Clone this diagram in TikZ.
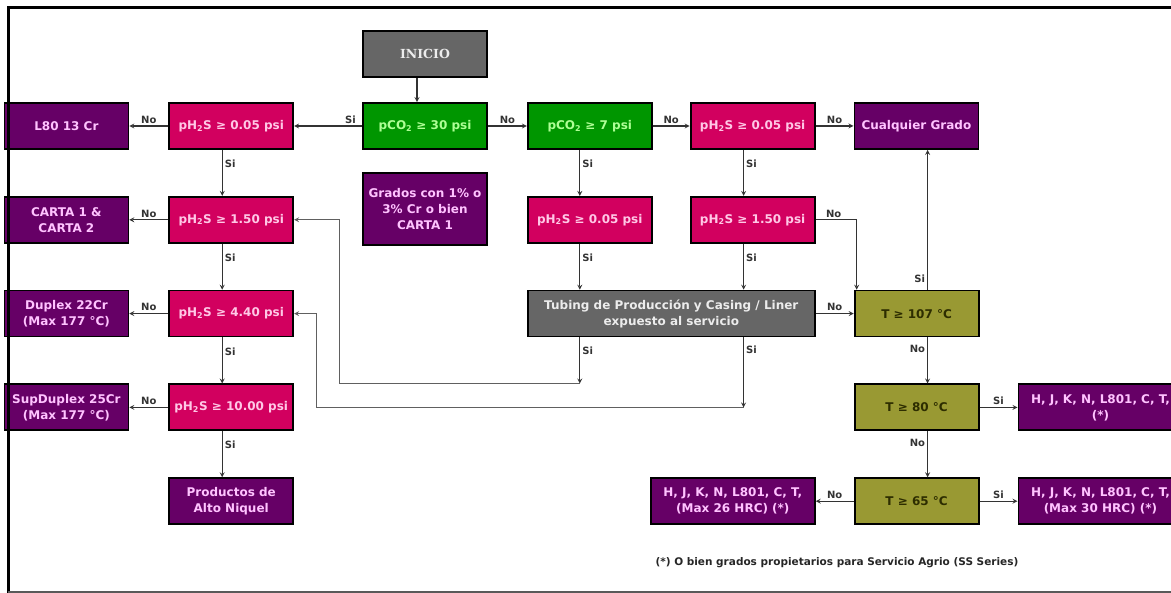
\documentclass[tikz,border=0pt]{standalone}
\usepackage{fontspec}
\setmainfont{DejaVu Sans}
\newfontfamily\inifont{DejaVu Serif}
\usepackage{xcolor}
\usetikzlibrary{shapes,arrows,positioning}

\definecolor{boxgray}{RGB}{102,102,102}
\definecolor{cogreen}{RGB}{0,150,0}
\definecolor{cotext}{RGB}{175,255,150}
\definecolor{hspink}{RGB}{210,0,95}
\definecolor{hstext}{RGB}{255,200,230}
\definecolor{grpurple}{RGB}{102,0,102}
\definecolor{grtext}{RGB}{255,195,255}
\definecolor{tolive}{RGB}{153,153,51}
\definecolor{ttext}{RGB}{45,45,0}

\begin{document}
\begin{tikzpicture}[
    x=1pt, y=1pt,
    node distance=46pt and 38pt,
    base/.style={draw=black, line width=1.8pt, rectangle, minimum width=124pt, minimum height=46pt, align=center, inner sep=2pt, font=\fontsize{12}{16}\selectfont\bfseries},
    start/.style={base, fill=boxgray, text=gray!15, font=\fontsize{12.5}{16}\selectfont\inifont\bfseries},
    co/.style={base, fill=cogreen, text=cotext},
    hs/.style={base, fill=hspink, text=hstext},
    grade/.style={base, fill=grpurple, text=grtext},
    temp/.style={base, fill=tolive, text=ttext},
    serv/.style={base, fill=boxgray, text=gray!15, minimum width=287pt},
    wide/.style={grade, minimum width=164pt},
    lbl/.style={font=\fontsize{10}{12}\selectfont\bfseries, text=black!80, inner sep=2pt},
    arrow/.style={->, >=stealth, line width=1.2pt, draw=black!80},
    back/.style={->, >=stealth, line width=1.2pt, draw=gray!75!black}
]
    \useasboundingbox (0,0) rectangle (1171,-593);

    \node[co] (co2a) at (425,-126) {pCO\textsubscript{2} ≥ 30 psi};
    \node[start, above=24pt of co2a] (inicio) {INICIO};
    \node[grade, below=22pt of co2a, minimum height=72pt] (grados) {Grados con 1\% o\\3\% Cr o bien\\CARTA 1};

    \node[hs, left=68pt of co2a] (hsa) {pH\textsubscript{2}S ≥ 0.05 psi};
    \node[grade, left=39pt of hsa] (l80) {L80 13 Cr};
    \node[hs, below=of hsa] (hsb) {pH\textsubscript{2}S ≥ 1.50 psi};
    \node[grade, left=39pt of hsb] (carta) {CARTA 1 \&\\CARTA 2};
    \node[hs, below=of hsb] (hsc) {pH\textsubscript{2}S ≥ 4.40 psi};
    \node[grade, left=39pt of hsc] (duplex) {Duplex 22Cr\\(Max 177 °C)};
    \node[hs, below=of hsc] (hsd) {pH\textsubscript{2}S ≥ 10.00 psi};
    \node[grade, left=39pt of hsd] (supdup) {SupDuplex 25Cr\\(Max 177 °C)};
    \node[grade, below=of hsd] (niquel) {Productos de\\Alto Niquel};

    \node[co, right=39pt of co2a] (co2b) {pCO\textsubscript{2} ≥ 7 psi};
    \node[hs, right=37pt of co2b] (hse) {pH\textsubscript{2}S ≥ 0.05 psi};
    \node[grade, right=of hse] (any) {Cualquier Grado};
    \node[hs, below=of co2b] (hsf) {pH\textsubscript{2}S ≥ 0.05 psi};
    \node[hs, below=of hse] (hsg) {pH\textsubscript{2}S ≥ 1.50 psi};
    \node[serv, below=46pt of hsf.south west, anchor=north west] (tubing) {Tubing de Producción y Casing / Liner\\expuesto al servicio};

    \node[temp, right=of tubing] (t107) {T ≥ 107 °C};
    \node[temp, below=of t107] (t80) {T ≥ 80 °C};
    \node[temp, below=of t80] (t65) {T ≥ 65 °C};
    \node[wide, right=of t80] (hjka) {H, J, K, N, L801, C, T,\\(*)};
    \node[wide, right=of t65] (hjkb) {H, J, K, N, L801, C, T,\\(Max 30 HRC) (*)};
    \node[wide, left=of t65] (hjkc) {H, J, K, N, L801, C, T,\\(Max 26 HRC) (*)};

    \node[font=\fontsize{10.5}{12}\selectfont\bfseries, text=black!85, anchor=west] (nota) at (652,-563) {(*) O bien grados propietarios para Servicio Agrio (SS Series)};

    \draw[arrow] ([xshift=-8pt]inicio.south) -- ([xshift=-8pt]co2a.north);
    \draw[arrow] (co2a) -- node[lbl, above, pos=0.17] {Si} (hsa);
    \draw[arrow] (co2a) -- node[lbl, above] {No} (co2b);
    \draw[arrow] (co2b) -- node[lbl, above] {No} (hse);
    \draw[arrow] (hse) -- node[lbl, above] {No} (any);

    \draw[arrow] (hsa) -- node[lbl, above] {No} (l80);
    \draw[arrow] (hsb) -- node[lbl, above] {No} (carta);
    \draw[arrow] (hsc) -- node[lbl, above] {No} (duplex);
    \draw[arrow] (hsd) -- node[lbl, above] {No} (supdup);
    \draw[arrow] ([xshift=-9pt]hsa.south) -- node[lbl, right, pos=0.3] {Si} ([xshift=-9pt]hsb.north);
    \draw[arrow] ([xshift=-9pt]hsb.south) -- node[lbl, right, pos=0.3] {Si} ([xshift=-9pt]hsc.north);
    \draw[arrow] ([xshift=-9pt]hsc.south) -- node[lbl, right, pos=0.3] {Si} ([xshift=-9pt]hsd.north);
    \draw[arrow] ([xshift=-9pt]hsd.south) -- node[lbl, right, pos=0.3] {Si} ([xshift=-9pt]niquel.north);

    \draw[arrow] ([xshift=-10pt]co2b.south) -- node[lbl, right, pos=0.3] {Si} ([xshift=-10pt]hsf.north);
    \draw[arrow] ([xshift=-9pt]hse.south) -- node[lbl, right, pos=0.3] {Si} ([xshift=-9pt]hsg.north);
    \draw[arrow] ([xshift=-10pt]hsf.south) -- node[lbl, right, pos=0.3] {Si} ([xshift=-10pt]hsf.south |- tubing.north);
    \draw[arrow] ([xshift=-9pt]hsg.south) -- node[lbl, right, pos=0.3] {Si} ([xshift=-9pt]hsg.south |- tubing.north);
    \draw[arrow] (hsg.east) -| node[lbl, above, pos=0.22] {No} ([xshift=3pt]t107.north west);
    \draw[arrow] (tubing) -- node[lbl, above] {No} (t107);

    \coordinate (ra) at ([xshift=-10pt,yshift=-46pt]hsf.south |- tubing.south);
    \coordinate (rb) at ([xshift=-9pt,yshift=-70pt]hsg.south |- tubing.south);
    \draw[arrow] ([xshift=-10pt]hsf.south |- tubing.south) -- node[lbl, right, pos=0.28] {Si} (ra);
    \draw[arrow] ([xshift=-9pt]hsg.south |- tubing.south) -- node[lbl, right, pos=0.18] {Si} (rb);
    \draw[back] (ra) -| ([xshift=45pt]hsb.east) -- (hsb.east);
    \draw[back] (rb) -| ([xshift=22pt]hsc.east) -- (hsc.east);

    \draw[arrow] ([xshift=11pt]t107.north) -- node[lbl, left, pos=0.08] {Si} ([xshift=11pt]t107.north |- any.south);
    \draw[arrow] ([xshift=11pt]t107.south) -- node[lbl, left, pos=0.25] {No} ([xshift=11pt]t80.north);
    \draw[arrow] ([xshift=11pt]t80.south) -- node[lbl, left, pos=0.25] {No} ([xshift=11pt]t65.north);
    \draw[arrow] (t80) -- node[lbl, above] {Si} (hjka);
    \draw[arrow] (t65) -- node[lbl, above] {Si} (hjkb);
    \draw[arrow] (t65) -- node[lbl, above] {No} (hjkc);

    \draw[line width=3pt] (8,-593) -- (8,-8) -- (1171,-8);
    \draw[line width=1.5pt, gray!70!black] (8,-592) -- (1171,-592);
\end{tikzpicture}
\end{document}
